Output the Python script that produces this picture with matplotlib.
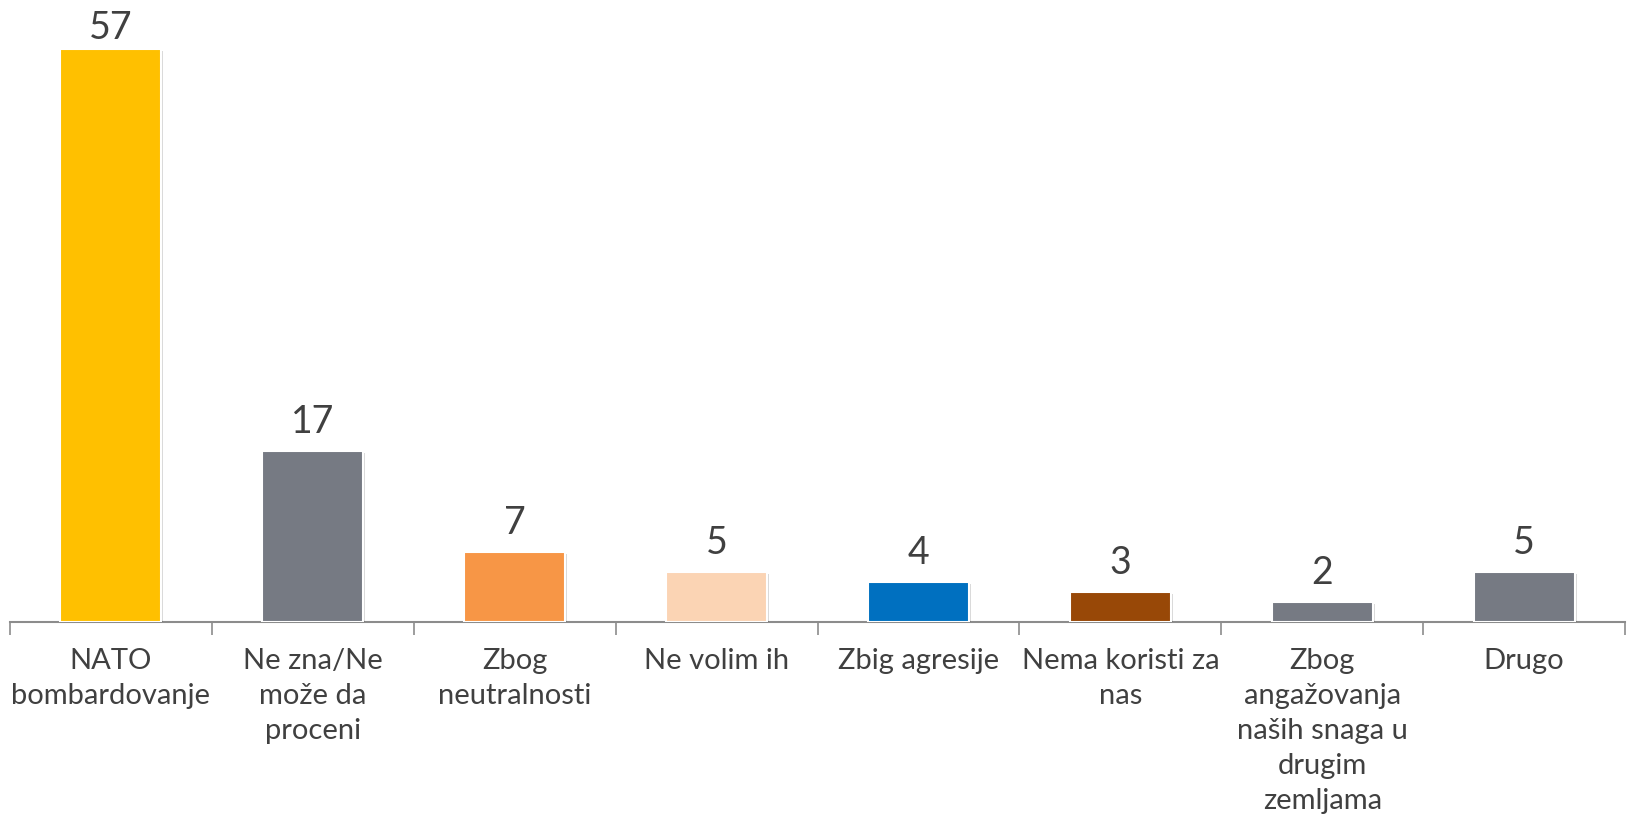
import matplotlib.pyplot as plt
import matplotlib.patheffects as pe

categories = ['NATO\nbombardovanje', 'Ne zna/Ne\nmože da\nproceni', 'Zbog\nneutralnosti',
              'Ne volim ih', 'Zbig agresije', 'Nema koristi za\nnas',
              'Zbog\nangažovanja\nnaših snaga u\ndrugim\nzemljama', 'Drugo']
values = [57, 17, 7, 5, 4, 3, 2, 5]
colors = ['#FFC000', '#767A83', '#F79646', '#FBD4B4', '#0070C0', '#984807', '#767A83', '#767A83']

plt.rcParams['font.family'] = ['Lato', 'DejaVu Sans']
text_color = '#404040'

fig = plt.figure(figsize=(16.29, 8.17), dpi=100)
# axis line at y=622 px, 10.05 px per unit
ax = fig.add_axes([10 / 1629, 1 - 622 / 817, 1615 / 1629, 603 / 817])

x = range(len(values))
bars = ax.bar(x, values, width=0.5, color=colors, edgecolor='white', linewidth=1.5, zorder=3)
for b in bars:
    b.set_path_effects([pe.SimplePatchShadow(offset=(1.5, -1.5), shadow_rgbFace='#000000', alpha=0.15),
                        pe.Normal()])

top = max(values)
for xi, v in zip(x, values):
    # the tallest label sits closer to its bar (room is short at the top)
    off = 2 if v == top else 8
    ax.annotate(str(v), (xi, v), xytext=(0, off), textcoords='offset points',
                ha='center', va='bottom', fontsize=27, color=text_color)

ax.set_xlim(-0.5, len(values) - 0.5)
ax.set_ylim(0, 60)

ax.set_xticks(list(x))
ax.set_xticklabels(categories, fontsize=21, color=text_color, linespacing=1.42)
ax.tick_params(axis='x', which='major', length=0, pad=19)
ax.set_xticks([i - 0.5 for i in range(len(values) + 1)], minor=True)
ax.tick_params(axis='x', which='minor', length=9, width=1.2, color='#8C8C8C')
ax.set_yticks([])

for s in ['top', 'right', 'left']:
    ax.spines[s].set_visible(False)
ax.spines['bottom'].set_color('#8C8C8C')
ax.spines['bottom'].set_linewidth(1.5)

fig.savefig('out.png', dpi=100)
